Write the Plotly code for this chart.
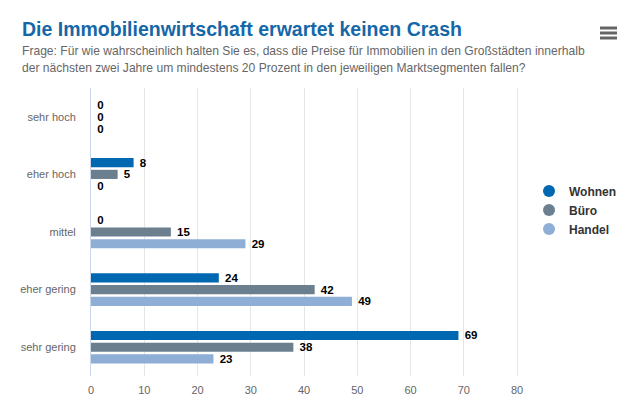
import plotly.graph_objects as go

categories = ["sehr hoch", "eher hoch", "mittel", "eher gering", "sehr gering"]
wohnen = [0, 8, 0, 24, 69]
buero = [0, 5, 15, 42, 38]
handel = [0, 0, 29, 49, 23]
series_names = ["Wohnen", "Büro", "Handel"]
colors = ["#0068b0", "#6c7f8f", "#8eaed6"]
x_ticks = [0, 10, 20, 30, 40, 50, 60, 70, 80]

title = "Die Immobilienwirtschaft erwartet keinen Crash"
subtitle_lines = [
    "Frage: Für wie wahrscheinlich halten Sie es, dass die Preise für Immobilien in den Großstädten innerhalb",
    "der nächsten zwei Jahre um mindestens 20 Prozent in den jeweiligen Marktsegmenten fallen?",
]

font_family = "Liberation Sans, Arial, sans-serif"

T, B = 88, 376  # plot top/bottom in px
def py(y):
    return (B - y) / (B - T)

fig = go.Figure()
for name, vals, col in zip(series_names, [wohnen, buero, handel], colors):
    fig.add_trace(go.Bar(
        y=categories, x=vals, orientation="h", name=name,
        marker=dict(color=col, line=dict(width=0)),
        text=["\u00a0" + str(v) for v in vals], textposition="outside",
        textfont=dict(family=font_family, size=11.5, color="#000000", weight="bold"),
        constraintext="none", cliponaxis=False, showlegend=False,
    ))
    fig.add_trace(go.Scatter(
        x=[None], y=[None], mode="markers", name=name,
        marker=dict(symbol="circle", size=13, color=col),
        showlegend=True,
    ))

fig.update_layout(
    width=632, height=399,
    margin=dict(l=91, r=107, t=T, b=399 - B, autoexpand=False),
    paper_bgcolor="white", plot_bgcolor="white",
    barmode="group", bargap=0.39, bargroupgap=0.22,
    font=dict(family=font_family, size=11, color="#666666"),
    xaxis=dict(range=[0, 81.5], tickvals=x_ticks, showgrid=True, gridcolor="#e6e6e6",
               zeroline=False, showline=False, ticks="", automargin=False,
               ticklabelstandoff=6, tickfont=dict(size=11, color="#666666")),
    yaxis=dict(categoryorder="array", categoryarray=categories, autorange="reversed",
               showline=True, linecolor="#ccd6eb", linewidth=1, ticks="", automargin=False,
               ticklabelstandoff=12, tickfont=dict(size=11, color="#666666")),
    legend=dict(x=(529 - 91) / 434, xanchor="left", y=py(210), yanchor="middle",
                font=dict(family=font_family, size=12, color="#333333", weight="bold"),
                itemsizing="constant", tracegroupgap=0, itemwidth=30,
                bgcolor="rgba(0,0,0,0)"),
    showlegend=True,
)

fig.add_annotation(text=f"<b>{title}</b>", xref="paper", yref="paper",
                   x=(20 - 91) / 434, y=py(29), xanchor="left", yanchor="middle",
                   showarrow=False, font=dict(family=font_family, size=19.5, color="#1667a8"))
for i, line in enumerate(subtitle_lines):
    fig.add_annotation(text=line, xref="paper", yref="paper",
                       x=(20 - 91) / 434, y=py(51 + 17 * i), xanchor="left", yanchor="middle",
                       showarrow=False, font=dict(family=font_family, size=12.1, color="#666666"))

# hamburger menu icon
for yy in [28, 33, 38]:
    fig.add_shape(type="line", xref="paper", yref="paper",
                  x0=(600 - 91) / 434, x1=(617 - 91) / 434,
                  y0=py(yy), y1=py(yy), line=dict(color="#666666", width=3))

fig.write_html("out.html", config={"displayModeBar": False},
               post_script="document.body.style.margin='0';")
